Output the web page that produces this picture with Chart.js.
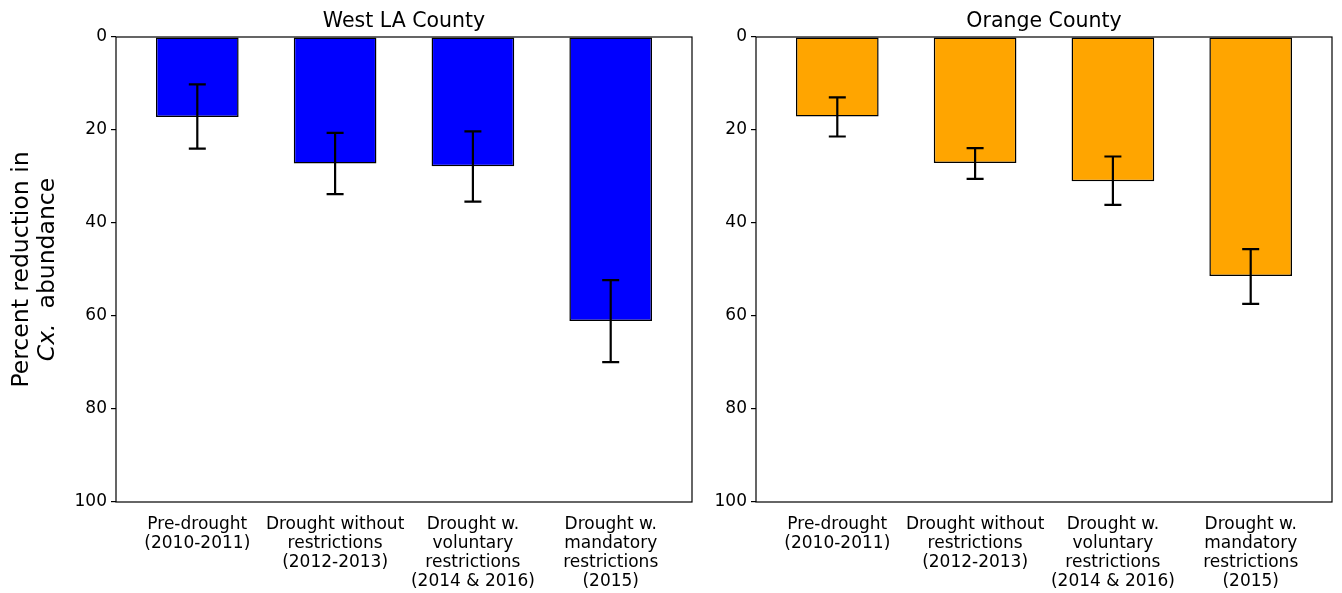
<!DOCTYPE html>
<html>
<head>
<meta charset="utf-8">
<script src="https://cdn.jsdelivr.net/npm/chart.js@4/dist/chart.umd.min.js"></script>
<style>
  html, body { margin: 0; padding: 0; background: #fff; }
  #wrap { position: relative; width: 1342px; height: 593px; overflow: hidden; }
  #left { position: absolute; left: 0; top: 0; }
  #right { position: absolute; left: 700px; top: 0; }
</style>
</head>
<body>
<div id="wrap">
  <canvas id="left" width="700" height="593"></canvas>
  <canvas id="right" width="642" height="593"></canvas>
</div>
<script>
const categories = [
    ['Pre-drought', '(2010-2011)'],
    ['Drought without', 'restrictions', '(2012-2013)'],
    ['Drought w.', 'voluntary', 'restrictions', '(2014 & 2016)'],
    ['Drought w.', 'mandatory', 'restrictions', '(2015)']
];
const westLA = [17.2, 27.2, 27.8, 61.1];
const westLALow = [10.2, 20.6, 20.3, 52.3];
const westLAHigh = [24.0, 33.8, 35.4, 69.9];
const orange = [17.1, 27.1, 31.0, 51.4];
const orangeLow = [13.0, 23.9, 25.7, 45.6];
const orangeHigh = [21.4, 30.5, 36.1, 57.4];
const yMin = 0, yMax = 100, yStep = 20;

const FONT = "'DejaVu Sans', sans-serif";

// error bars + frame + title, drawn through the chart scales
const panelExtras = {
    id: 'panelExtras',
    afterDatasetsDraw(chart) {
        const o = chart.options.plugins.panelExtras;
        const ctx = chart.ctx;
        const xs = chart.scales.x, ys = chart.scales.y;
        const area = chart.chartArea;

        ctx.save();
        ctx.strokeStyle = '#000';
        ctx.lineWidth = 2.2;
        o.low.forEach((lo, i) => {
            const x = xs.getPixelForValue(i);
            const y1 = ys.getPixelForValue(lo);
            const y2 = ys.getPixelForValue(o.high[i]);
            ctx.beginPath();
            ctx.moveTo(x, y1); ctx.lineTo(x, y2);
            ctx.moveTo(x - 8.5, y1); ctx.lineTo(x + 8.5, y1);
            ctx.moveTo(x - 8.5, y2); ctx.lineTo(x + 8.5, y2);
            ctx.stroke();
        });

        ctx.lineWidth = 1.2;
        ctx.strokeRect(area.left, area.top, area.right - area.left, area.bottom - area.top);

        ctx.fillStyle = '#000';
        ctx.font = '20.5px ' + FONT;
        ctx.textAlign = 'center';
        ctx.textBaseline = 'alphabetic';
        ctx.fillText(o.title, (area.left + area.right) / 2, area.top - 10);

        if (o.yTitle) {
            const cy = (area.top + area.bottom) / 2;
            ctx.translate(0, cy);
            ctx.rotate(-Math.PI / 2);
            ctx.textBaseline = 'middle';
            ctx.font = '23.5px ' + FONT;
            ctx.fillText(o.yTitle[0], 0, 22);
            // second line: italic "Cx." then regular text
            const it = 'italic 23.5px ' + FONT, rg = '23.5px ' + FONT;
            ctx.font = it;
            const w1 = ctx.measureText(o.yTitle[1]).width;
            ctx.font = rg;
            const w2 = ctx.measureText(o.yTitle[2]).width;
            let x0 = -(w1 + w2) / 2;
            ctx.textAlign = 'left';
            ctx.font = it;
            ctx.fillText(o.yTitle[1], x0, 48);
            ctx.font = rg;
            ctx.fillText(o.yTitle[2], x0 + w1, 48);
        }
        ctx.restore();
    }
};

function makePanel(id, title, values, low, high, color, yWidth, rightPad, yTitle) {
    const ctx = document.getElementById(id).getContext('2d');
    return new Chart(ctx, {
        type: 'bar',
        data: {
            datasets: [{
                data: values.map((v, i) => ({ x: i, y: v })),
                backgroundColor: color,
                borderColor: '#000',
                borderWidth: 1.5,
                borderSkipped: false,
                categoryPercentage: 1,
                barPercentage: 0.6
            }]
        },
        options: {
            responsive: false,
            devicePixelRatio: 1,
            animation: false,
            events: [],
            layout: { padding: { top: 37, right: rightPad, bottom: 0, left: 0 } },
            plugins: {
                legend: { display: false },
                tooltip: { enabled: false },
                panelExtras: { title: title, low: low, high: high, yTitle: yTitle }
            },
            scales: {
                x: {
                    type: 'linear',
                    offset: false,
                    min: -0.59,
                    max: categories.length - 1 + 0.59,
                    grid: { display: false },
                    border: { display: false },
                    afterBuildTicks: (scale) => {
                        scale.ticks = categories.map((c, i) => ({ value: i }));
                    },
                    afterFit: (scale) => {
                        scale.height = 91;
                        scale.paddingLeft = 0; scale.paddingRight = 0;
                    },
                    ticks: {
                        autoSkip: false,
                        maxRotation: 0,
                        minRotation: 0,
                        padding: 5,
                        color: '#000',
                        font: { family: FONT, size: 17, lineHeight: 1.12 },
                        callback: (v) => categories[v]
                    }
                },
                y: {
                    type: 'linear',
                    reverse: true,
                    min: yMin,
                    max: yMax,
                    grid: { drawOnChartArea: false, drawTicks: true, tickLength: 5, color: '#000', lineWidth: 1.2 },
                    border: { display: false },
                    afterFit: (scale) => {
                        scale.width = yWidth;
                        scale.paddingTop = 0; scale.paddingBottom = 0;
                    },
                    ticks: {
                        stepSize: yStep,
                        padding: 4,
                        color: '#000',
                        font: { family: FONT, size: 17 }
                    }
                }
            }
        },
        plugins: [panelExtras]
    });
}

makePanel('left', 'West LA County', westLA, westLALow, westLAHigh, '#0000ff', 116, 8,
    ['Percent reduction in', 'Cx.', '  abundance']);
makePanel('right', 'Orange County', orange, orangeLow, orangeHigh, '#ffa500', 56, 10, null);
</script>
</body>
</html>
